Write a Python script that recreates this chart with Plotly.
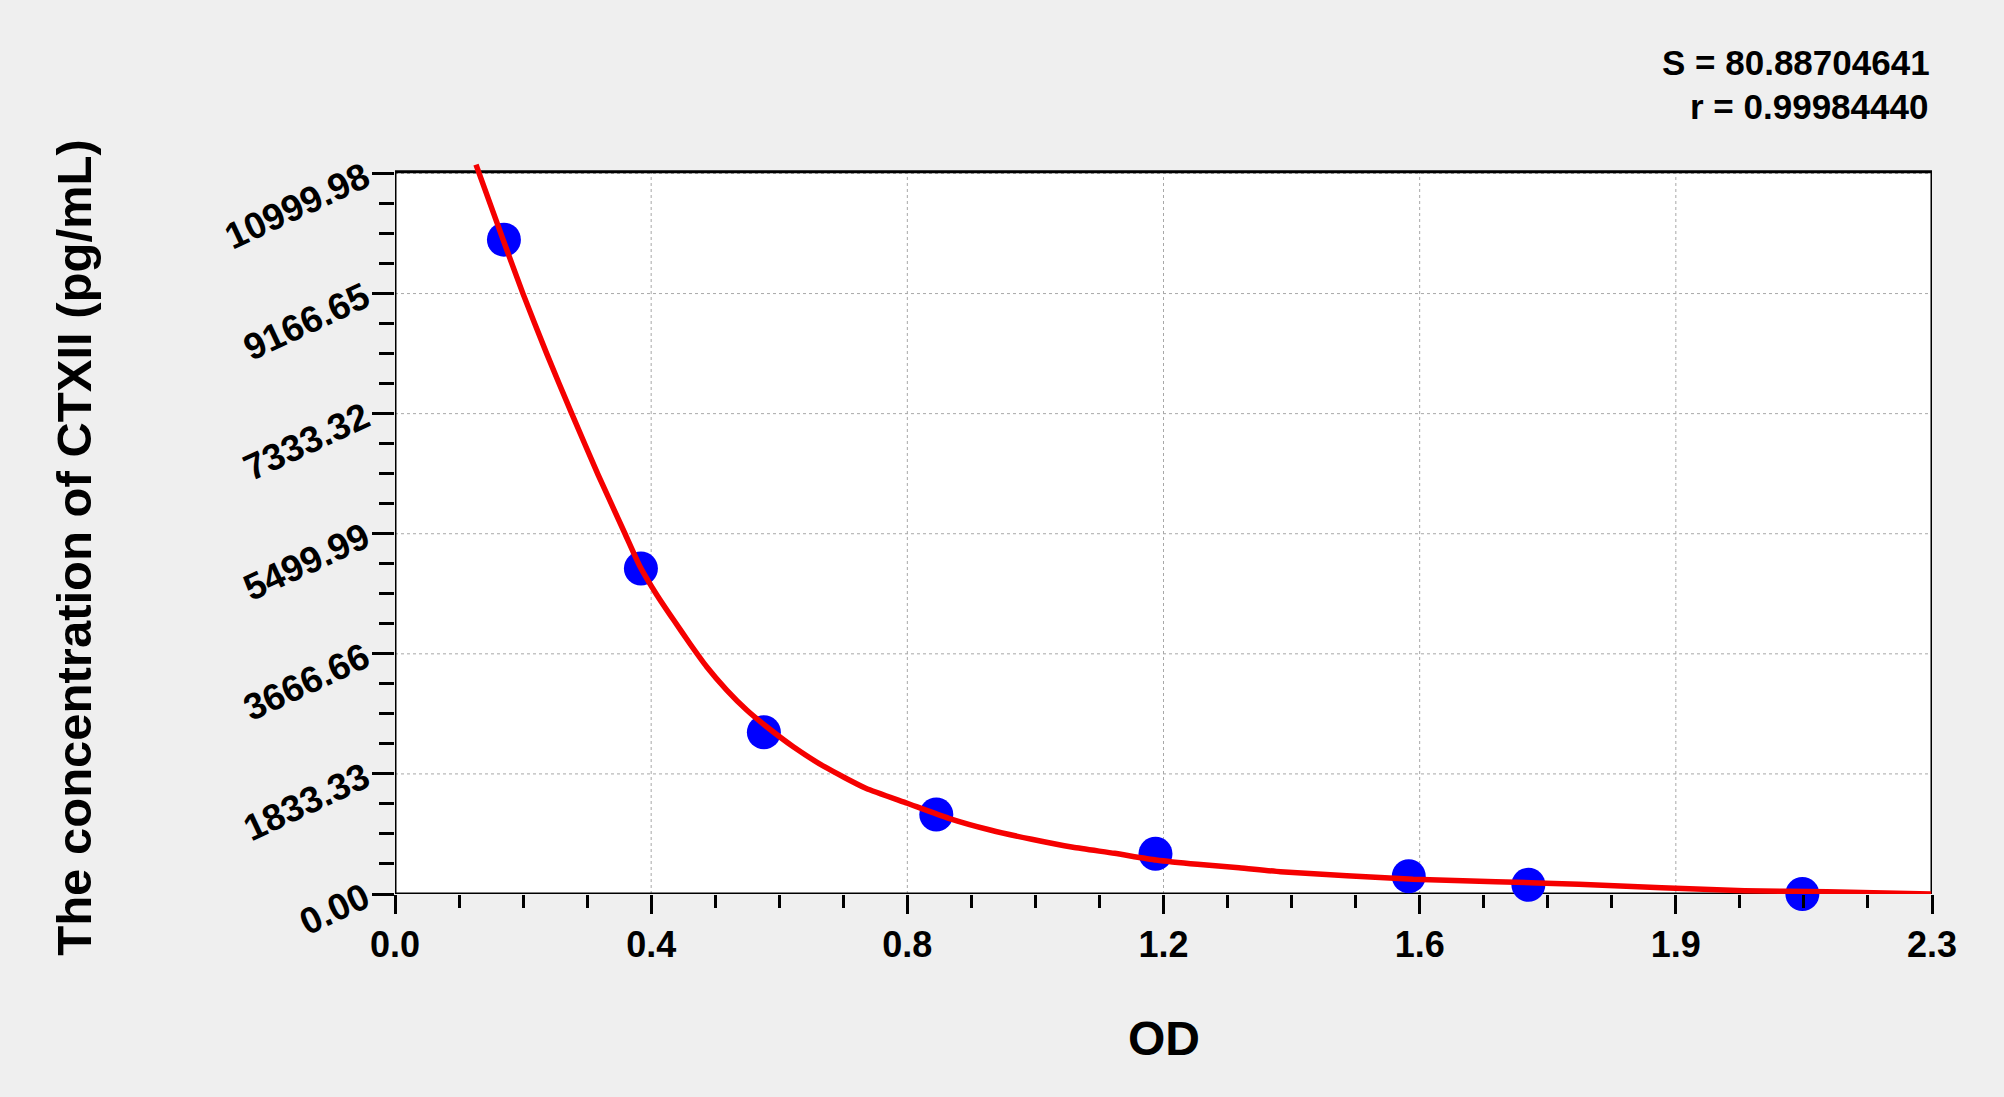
import plotly.graph_objects as go

# ---- data ----
od_points = [0.163, 0.368, 0.552, 0.810, 1.138, 1.517, 1.696, 2.106]
conc_points = [9990, 4970, 2470, 1215, 615, 270, 140, 0]

curve_od = [0.1212, 0.1616, 0.1915, 0.2270, 0.2645, 0.3040, 0.3442, 0.3666, 0.3916,
            0.4165, 0.4414, 0.4664, 0.4964, 0.5263, 0.5562, 0.5960, 0.6426,
            0.7045, 0.7666, 0.8287, 0.8907, 0.9528, 1.0147, 1.0768, 1.1388, 1.2009,
            1.2630, 1.3250, 1.4243, 1.5234, 1.6473, 1.7715, 1.8955, 2.0196, 2.1436,
            2.2988]
curve_conc = [11136, 9993, 9166, 8250, 7333, 6400, 5500, 5000, 4570,
              4190, 3820, 3469, 3113, 2808, 2553, 2248, 1943,
              1614, 1385, 1156, 977, 835, 713, 621, 519, 453,
              401, 340, 279, 224, 188, 148, 96, 50, 35,
              0]

x_tick_values = [0.0, 0.38333, 0.76667, 1.15, 1.53333, 1.91667, 2.3]
x_tick_labels = ["0.0", "0.4", "0.8", "1.2", "1.6", "1.9", "2.3"]
y_tick_values = [0.0, 1833.33, 3666.66, 5499.99, 7333.32, 9166.65, 10999.98]
y_tick_labels = ["0.00", "1833.33", "3666.66", "5499.99", "7333.32", "9166.65", "10999.98"]
stats_lines = ["S = 80.88704641", "r = 0.99984440"]

x_title = "OD"
y_title = "The concentration of CTXII (pg/mL)"

x_range = [0.0, 2.3]
y_range = [0.0, 11160]
frame_top = 11025

FONT = "Liberation Sans, Arial, sans-serif"
BG = "#efefef"
GRID = "#a8a8a8"

fig = go.Figure()
fig.add_trace(go.Scatter(
    x=od_points, y=conc_points, mode="markers",
    marker=dict(color="#0000ff", size=34, line=dict(width=0)),
    cliponaxis=False, showlegend=False, hoverinfo="skip"))
fig.add_trace(go.Scatter(
    x=curve_od, y=curve_conc, mode="lines",
    line=dict(color="#f50000", width=5.5, shape="spline", smoothing=0.5),
    showlegend=False, hoverinfo="skip"))

shapes = [dict(type="rect", xref="x", yref="y", x0=x_range[0], x1=x_range[1],
               y0=0, y1=frame_top, fillcolor="white", line=dict(width=0), layer="below")]
for xv in x_tick_values[1:-1]:
    shapes.append(dict(type="line", xref="x", yref="y", x0=xv, x1=xv, y0=0, y1=frame_top,
                       line=dict(color=GRID, width=1, dash="3px,3px"), layer="below"))
for yv in y_tick_values[1:]:
    shapes.append(dict(type="line", xref="x", yref="y", x0=x_range[0], x1=x_range[1], y0=yv, y1=yv,
                       line=dict(color=GRID, width=1, dash="3px,3px"), layer="below"))
shapes.append(dict(type="rect", xref="x", yref="y", x0=x_range[0], x1=x_range[1],
                   y0=0, y1=frame_top, fillcolor="rgba(0,0,0,0)",
                   line=dict(color="black", width=3), layer="below"))

annotations = [
    dict(text=f"<b>{stats_lines[0]}</b>", xref="paper", yref="paper", x=1.0, y=1.138,
         xanchor="right", yanchor="middle", showarrow=False,
         font=dict(family=FONT, size=35, color="black")),
    dict(text=f"<b>{stats_lines[1]}</b>", xref="paper", yref="paper", x=0.999, y=1.077,
         xanchor="right", yanchor="middle", showarrow=False,
         font=dict(family=FONT, size=35, color="black")),
    dict(text=f"<b>{x_title}</b>", xref="paper", yref="paper", x=0.5, y=-0.197,
         xanchor="center", yanchor="middle", showarrow=False,
         font=dict(family=FONT, size=48, color="black")),
    dict(text=f"<b>{y_title}</b>", xref="paper", yref="paper", x=-0.209, y=0.4747,
         xanchor="center", yanchor="middle", showarrow=False, textangle=-90,
         font=dict(family=FONT, size=49, color="black")),
]

fig.update_layout(
    width=2004, height=1097,
    margin=dict(l=395, r=72, t=163, b=203, pad=0),
    paper_bgcolor=BG, plot_bgcolor=BG,
    shapes=shapes, annotations=annotations,
    xaxis=dict(range=x_range, showgrid=False, zeroline=False, showline=False,
               tickmode="array", tickvals=x_tick_values, ticktext=x_tick_labels,
               ticks="outside", ticklen=19, tickwidth=3, tickcolor="black",
               tickfont=dict(family=FONT, size=36, color="black", weight="bold"),
               minor=dict(ticks="outside", dtick=2.3 / 24, tick0=0, ticklen=13,
                          tickwidth=3, tickcolor="black", showgrid=False)),
    yaxis=dict(range=y_range, showgrid=False, zeroline=False, showline=False,
               tickmode="array", tickvals=y_tick_values, ticktext=y_tick_labels,
               ticks="outside", ticklen=22, tickwidth=3, tickcolor="black",
               tickangle=-25,
               tickfont=dict(family=FONT, size=37, color="black", weight="bold"),
               minor=dict(ticks="outside", dtick=1833.33 / 4, tick0=0, ticklen=15,
                          tickwidth=3, tickcolor="black", showgrid=False)),
)

fig.write_html(
    "out.html",
    config={"displayModeBar": False},
    post_script="document.body.style.margin='0';document.body.style.background='#efefef';",
)
